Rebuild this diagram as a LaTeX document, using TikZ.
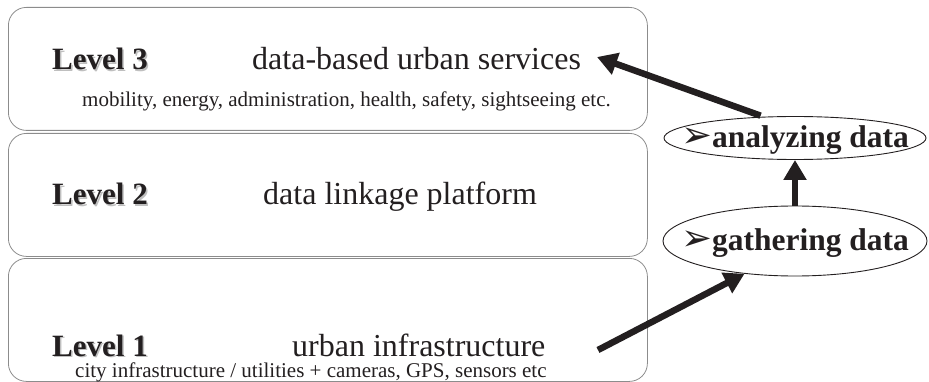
\documentclass[tikz,border=0pt]{standalone}
\usepackage{fontspec}
\setmainfont{Liberation Serif}
\newfontfamily\dejavu{DejaVu Sans}
\usetikzlibrary{shapes.geometric,arrows.meta}
\definecolor{boxgray}{HTML}{8C8C8C}
\definecolor{ink}{HTML}{231F20}
\begin{document}
\begin{tikzpicture}[x=1pt,y=-1pt,
  levelbox/.style={draw=boxgray, line width=0.8pt, rounded corners=18pt, minimum width=639pt, minimum height=123pt, inner sep=0pt, anchor=north west},
  lvl/.style={font=\fontsize{31}{31}\selectfont\bfseries, text=ink, anchor=base west, inner sep=0pt},
  lvlshadow/.style={lvl, text=black!25},
  head/.style={font=\fontsize{32}{32}\selectfont, text=ink, anchor=base west, inner sep=0pt},
  subtxt/.style={font=\fontsize{21}{21}\selectfont, text=ink, anchor=base west, inner sep=0pt},
  oval/.style={ellipse, draw=ink, line width=0.9pt, inner sep=0pt},
  ovaltext/.style={font=\fontsize{31.5}{31.5}\selectfont\bfseries, text=ink, anchor=base, inner sep=0pt},
  bigarrow/.style={draw=ink, line width=6.5pt, -{Triangle[length=20pt,width=22pt]}}
]
\useasboundingbox (0,0) rectangle (929,382);
% level boxes
\node[levelbox] (box3) at (8,7) {};
\node[levelbox] (box2) at (8,133) {};
\node[levelbox] (box1) at (8,258) {};
% level 3
\node[lvlshadow] (l3s) at (53.5,71.5) {Level 3};
\node[lvl] (l3) at (52,70) {Level 3};
\node[head] (h3) at (252,70) {data-based urban services};
\node[subtxt] (s3) at (82,107) {mobility, energy, administration, health, safety, sightseeing etc.};
% level 2
\node[lvlshadow] (l2s) at (53.5,206.5) {Level 2};
\node[lvl] (l2) at (52,205) {Level 2};
\node[head] (h2) at (263,205) {data linkage platform};
% level 1
\node[lvlshadow] (l1s) at (53.5,357.5) {Level 1};
\node[lvl] (l1) at (52,356) {Level 1};
\node[head] (h1) at (292,356) {urban infrastructure};
\node[subtxt] (s1) at (75,377) {city infrastructure / utilities + cameras, GPS, sensors etc};
% ellipses
\node[oval, minimum width=262pt, minimum height=43pt] (ana) at (795,138) {};
\node[ovaltext] (anat) at (795,148) {{\dejavu\fontsize{37}{37}\selectfont ➢}analyzing data};
\node[oval, minimum width=264pt, minimum height=70pt] (gat) at (795,241) {};
\node[ovaltext] (gatt) at (795,251) {{\dejavu\fontsize{37}{37}\selectfont ➢}gathering data};
% arrows
\coordinate (l3tip) at (597,57);
\coordinate (l1tail) at (598,350);
\draw[bigarrow, shorten <=3pt] (ana.146) -- (l3tip);
\draw[bigarrow] (gat.north) -- (ana.south);
\draw[bigarrow] (l1tail) -- (gat.213);
\end{tikzpicture}
\end{document}
